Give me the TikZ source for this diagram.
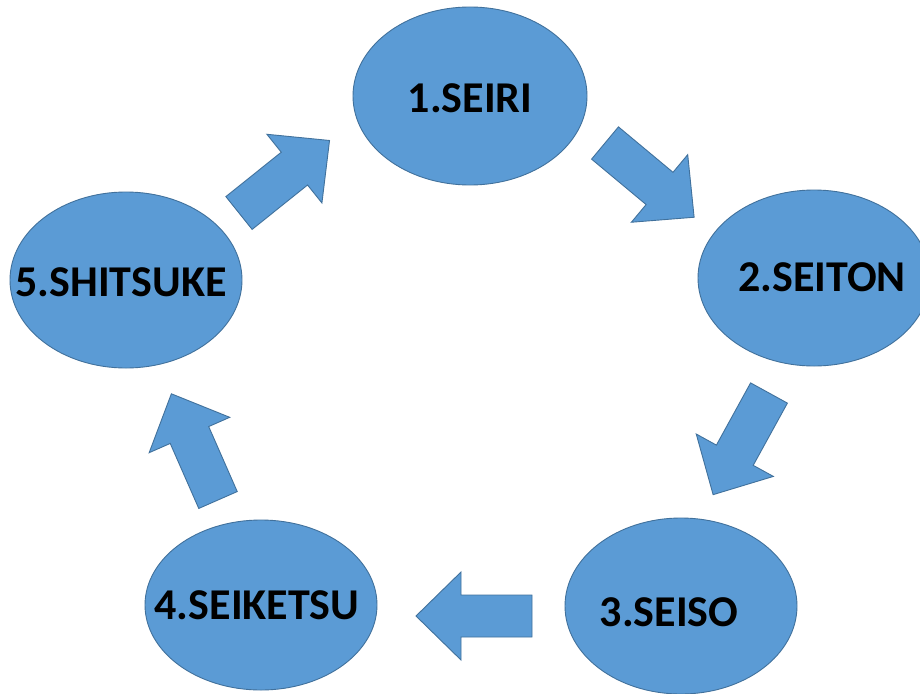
\documentclass[tikz,border=0pt]{standalone}
\usepackage{fontspec}
\setmainfont{Carlito}
\usetikzlibrary{shapes.geometric}
\definecolor{boxblue}{HTML}{5B9BD5}
\definecolor{edgeblue}{HTML}{41719C}
\tikzset{
  oval/.style={ellipse, fill=boxblue, draw=edgeblue, line width=0.9pt, inner sep=0pt},
  label5s/.style={font=\fontsize{44}{48}\selectfont\bfseries, text=black, inner sep=0pt},
  arrowstyle/.style={fill=boxblue, draw=edgeblue, line width=0.9pt, line join=miter},
  blockarrow/.pic={\draw[arrowstyle] (0,-21) -- (71,-21) -- (71,-44) -- (116,0) -- (71,44) -- (71,21) -- (0,21) -- cycle;}
}
\begin{document}
\begin{tikzpicture}[x=1pt,y=-1pt]
\clip (0,0) rectangle (920,693);
\fill[white] (0,0) rectangle (920,693);
% ellipses
\node[oval, minimum width=234pt, minimum height=178pt] (e1) at (470,96) {};
\node[oval, minimum width=232pt, minimum height=176pt] (e2) at (814,278) {};
\node[oval, minimum width=232pt, minimum height=176pt] (e3) at (681,606) {};
\node[oval, minimum width=232pt, minimum height=170pt] (e4) at (261,605) {};
\node[oval, minimum width=232pt, minimum height=176pt] (e5) at (126,280) {};
% labels
\node[label5s] (t1) at (470,98) {1.SEIRI};
\node[label5s] (t2) at (822,277) {2.SEITON};
\node[label5s] (t3) at (669,612) {3.SEISO};
\node[label5s] (t4) at (257,605) {4.SEIKETSU};
\node[label5s] (t5) at (121,282) {5.SHITSUKE};
% block arrows
\pic[rotate=-39.8] at (605,143) {blockarrow};
\pic[rotate=-118.8] at (769,393) {blockarrow};
\pic[rotate=180] at (532,616) {blockarrow};
\pic[rotate=113.7] at (218,500) {blockarrow};
\pic[rotate=38.7] at (239,213) {blockarrow};
\end{tikzpicture}
\end{document}
